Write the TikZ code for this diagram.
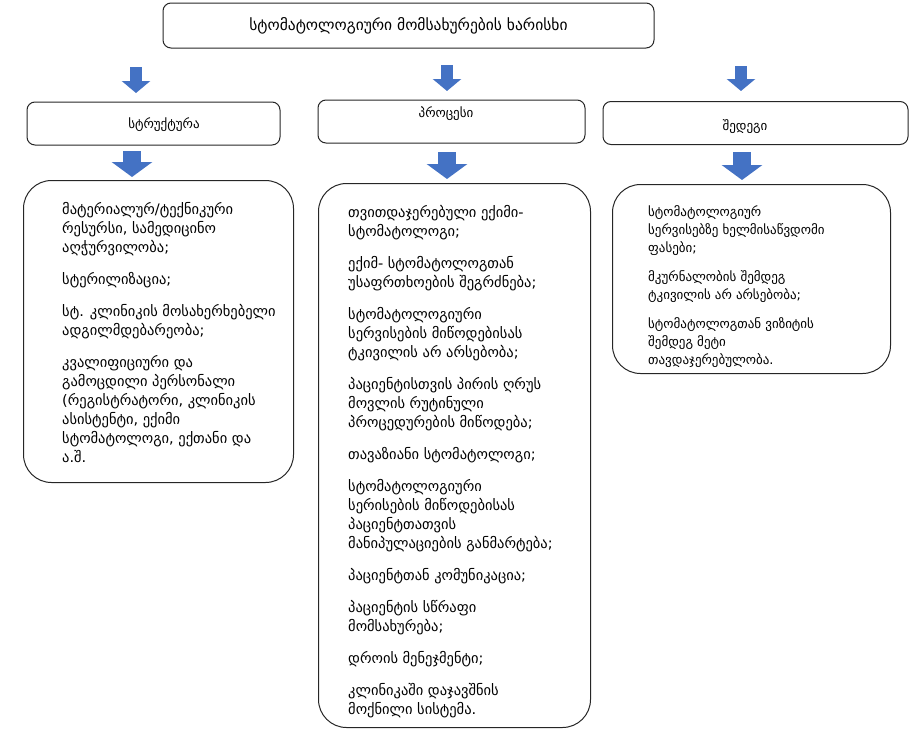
\documentclass[tikz,border=0pt]{standalone}
\usepackage{fontspec}
\newfontfamily\geofont{DejaVu Sans}
\usepackage{xcolor}
\usetikzlibrary{
    positioning,
    arrows.meta,
    calc
}
\definecolor{arrowblue}{HTML}{4472C4}
\definecolor{boxline}{HTML}{262626}

\tikzset{
  titlebox/.style={draw=boxline, line width=1pt, rounded corners=8pt,
    minimum width=491pt, minimum height=45pt,
    font=\geofont\fontsize{15.5}{17}\selectfont},
  headbox/.style={draw=boxline, line width=1pt, rounded corners=8pt,
    minimum height=43pt},
  headtext/.style={font=\geofont\fontsize{13}{15}\selectfont, inner sep=0pt},
  listbox/.style={draw=boxline, line width=1pt, rounded corners=28pt,
    anchor=north west},
  listtext/.style={font=\geofont\fontsize{14.5}{19}\selectfont, align=left,
    anchor=north west, inner sep=0pt},
  smallarrow/.style={draw=arrowblue, line width=12pt,
    -{Triangle[width=28pt,length=12pt]}},
  bigarrow/.style={draw=arrowblue, line width=18pt,
    -{Triangle[width=40pt,length=15pt]}}
}

\begin{document}
\begin{tikzpicture}[x=1pt, y=-1pt]
\useasboundingbox (0,0) rectangle (913,731);

% top
\node[titlebox] (quality) at (408.5,25.5) {სტომატოლოგიური მომსახურების ხარისხი};

% second row
\node[headbox, minimum width=253pt] (struct) at (153.5,123.5) {};
\node[headbox, minimum width=267pt] (proc) at (451.5,121.5) {};
\node[headbox, minimum width=305pt] (result) at (755.5,123) {};
\node[headtext] (struct-t) at (164,125) {სტრუქტურა};
\node[headtext] (proc-t) at (446,114) {პროცესი};
\node[headtext] (result-t) at (745,127) {შედეგი};

% lists
\node[listbox, minimum width=270pt, minimum height=302pt] (struct-list) at (23,180) {};
\node[listbox, minimum width=272pt, minimum height=544pt] (proc-list) at (318,183) {};
\node[listbox, minimum width=278pt, minimum height=189pt] (result-list) at (612,184) {};

\node[listtext] (struct-items) at (62,202) {%
მატერიალურ/ტექნიკური\\
რესურსი, სამედიცინო\\
აღჭურვილობა;\\[13pt]
სტერილიზაცია;\\[13pt]
სტ. კლინიკის მოსახერხებელი\\
ადგილმდებარეობა;\\[13pt]
კვალიფიციური და\\
გამოცდილი პერსონალი\\
(რეგისტრატორი, კლინიკის\\
ასისტენტი, ექიმი\\
სტომატოლოგი, ექთანი და\\
ა.შ.};

\node[listtext] (proc-items) at (348,205) {%
თვითდაჯერებული ექიმი-\\
სტომატოლოგი;\\[13pt]
ექიმ- სტომატოლოგთან\\
უსაფრთხოების შეგრძნება;\\[13pt]
სტომატოლოგიური\\
სერვისების მიწოდებისას\\
ტკივილის არ არსებობა;\\[13pt]
პაციენტისთვის პირის ღრუს\\
მოვლის რუტინული\\
პროცედურების მიწოდება;\\[13pt]
თავაზიანი სტომატოლოგი;\\[13pt]
სტომატოლოგიური\\
სერისების მიწოდებისას\\
პაციენტთათვის\\
მანიპულაციების განმარტება;\\[13pt]
პაციენტთან კომუნიკაცია;\\[13pt]
პაციენტის სწრაფი\\
მომსახურება;\\[13pt]
დროის მენეჯმენტი;\\[13pt]
კლინიკაში დაჯავშნის\\
მოქნილი სისტემა.};

\node[listtext, font=\geofont\fontsize{13}{18}\selectfont] (result-items) at (648,205) {%
სტომატოლოგიურ\\
სერვისებზე ხელმისაწვდომი\\
ფასები;\\[11pt]
მკურნალობის შემდეგ\\
ტკივილის არ არსებობა;\\[11pt]
სტომატოლოგთან ვიზიტის\\
შემდეგ მეტი\\
თავდაჯერებულობა.};

% arrows
\coordinate (a1s) at (136,67);
\coordinate (a1e) at (136,93);
\coordinate (a2s) at (447,65);
\coordinate (a2e) at (447,91);
\coordinate (a3s) at (741,66);
\coordinate (a3e) at (741,91);
\coordinate (b1s) at (132,151);
\coordinate (b1e) at (132,177);
\coordinate (b2s) at (447,152);
\coordinate (b2e) at (447,179);
\coordinate (b3s) at (742,152);
\coordinate (b3e) at (742,180);
\draw[smallarrow] (a1s) -- (a1e);
\draw[smallarrow] (a2s) -- (a2e);
\draw[smallarrow] (a3s) -- (a3e);
\draw[bigarrow] (b1s) -- (b1e);
\draw[bigarrow] (b2s) -- (b2e);
\draw[bigarrow] (b3s) -- (b3e);
\end{tikzpicture}
\end{document}
